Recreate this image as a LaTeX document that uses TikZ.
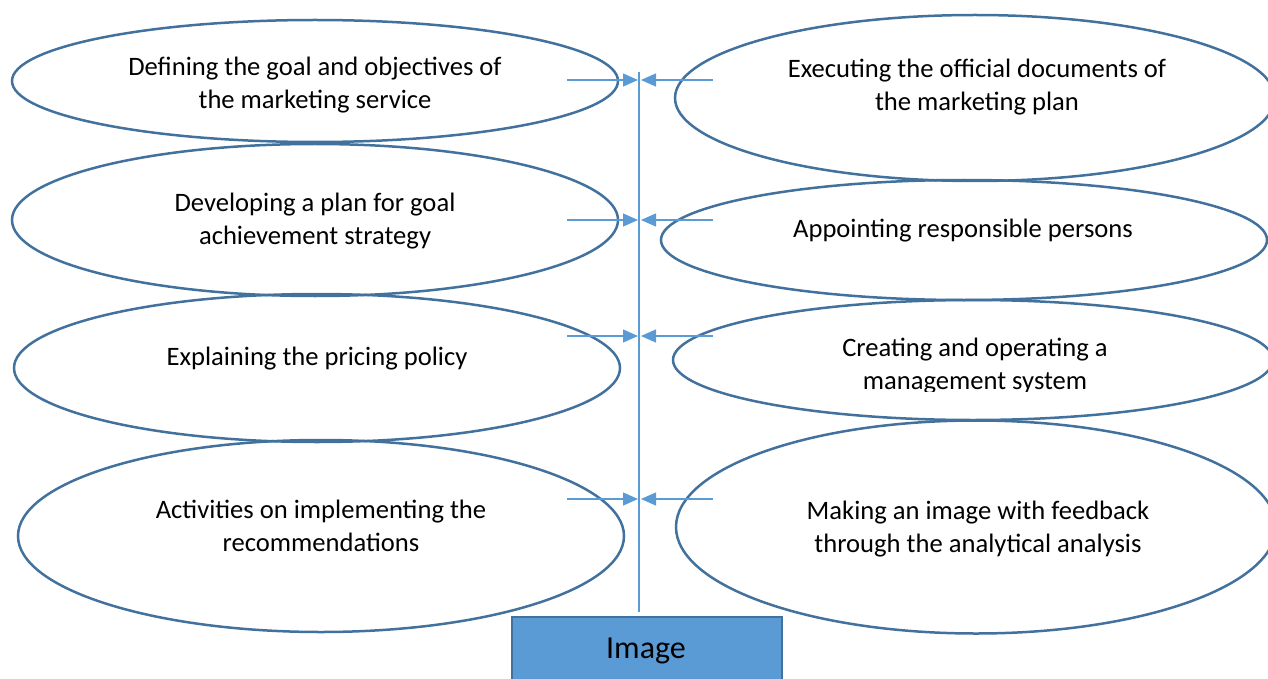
\documentclass[tikz,border=0pt]{standalone}
\usepackage{fontspec}
\setmainfont{Carlito}
\usetikzlibrary{shapes.geometric,arrows.meta}
\definecolor{rimblue}{HTML}{41719C}
\definecolor{spineblue}{HTML}{5B9BD5}
\tikzset{
  oval/.style={draw=rimblue, line width=2.5pt, ellipse, inner sep=0pt},
  caption/.style={align=center, font=\fontsize{26.6}{32.5}\selectfont, inner sep=0pt},
  feed/.style={draw=spineblue, line width=1.2pt, -{Triangle[length=15pt,width=13pt]}},
}
\begin{document}
\begin{tikzpicture}[x=1pt,y=-1pt]
\useasboundingbox (0,0) rectangle (1268,679);
\clip (0,0) rectangle (1268,679);
% left column of ellipses
\node[oval, minimum width=606pt, minimum height=122pt] (l1) at (315,81) {};
\node[oval, minimum width=606pt, minimum height=152pt] (l2) at (315,220) {};
\node[oval, minimum width=606pt, minimum height=148pt] (l3) at (317,368) {};
\node[oval, minimum width=606pt, minimum height=192pt] (l4) at (321,536) {};
% right column of ellipses
\node[oval, minimum width=600pt, minimum height=166pt] (r1) at (975,98) {};
\node[oval, minimum width=606pt, minimum height=120pt] (r2) at (964,240) {};
\node[oval, minimum width=600pt, minimum height=120pt] (r3) at (973,360) {};
\node[oval, minimum width=600pt, minimum height=213pt] (r4) at (976,527) {};
% texts
\node[caption] (tl1) at (315,85) {Defining the goal and objectives of\\the marketing service};
\node[caption] (tl2) at (315,221) {Developing a plan for goal\\achievement strategy};
\node[caption] (tl3) at (317,359) {Explaining the pricing policy};
\node[caption] (tl4) at (321,526) {Activities on implementing the\\recommendations};
\node[caption] (tr1) at (977,87) {Executing the official documents of\\the marketing plan};
\node[caption] (tr2) at (963,231) {Appointing responsible persons};
% this caption is cut off just under its baseline
\begin{scope}
\clip (780,320) rectangle (1180,391);
\node[caption] (tr3) at (975,366) {Creating and operating a\\management system};
\end{scope}
\node[caption] (tr4) at (978,529) {Making an image with feedback\\through the analytical analysis};
% result box
\node[draw=rimblue, fill=spineblue, line width=2pt, minimum width=270pt, minimum height=76pt, anchor=north west, inner sep=0pt] (img) at (511,616) {};
\node[font=\fontsize{32}{38}\selectfont, inner sep=0pt] (imgt) at (646,651) {Image};
% spine
\coordinate (sTop) at (639,72);
\coordinate (sBot) at (639,612);
\draw[draw=spineblue, line width=1.2pt] (sTop) -- (sBot);
% inflow arrows
\foreach \y/\n in {80/a,220/b,336/c,499/d}{
  \coordinate (\n L) at (567,\y);
  \coordinate (\n Lt) at (638,\y);
  \coordinate (\n R) at (713,\y);
  \coordinate (\n Rt) at (641,\y);
  \draw[feed] (\n L) -- (\n Lt);
  \draw[feed] (\n R) -- (\n Rt);
}
\end{tikzpicture}
\end{document}
